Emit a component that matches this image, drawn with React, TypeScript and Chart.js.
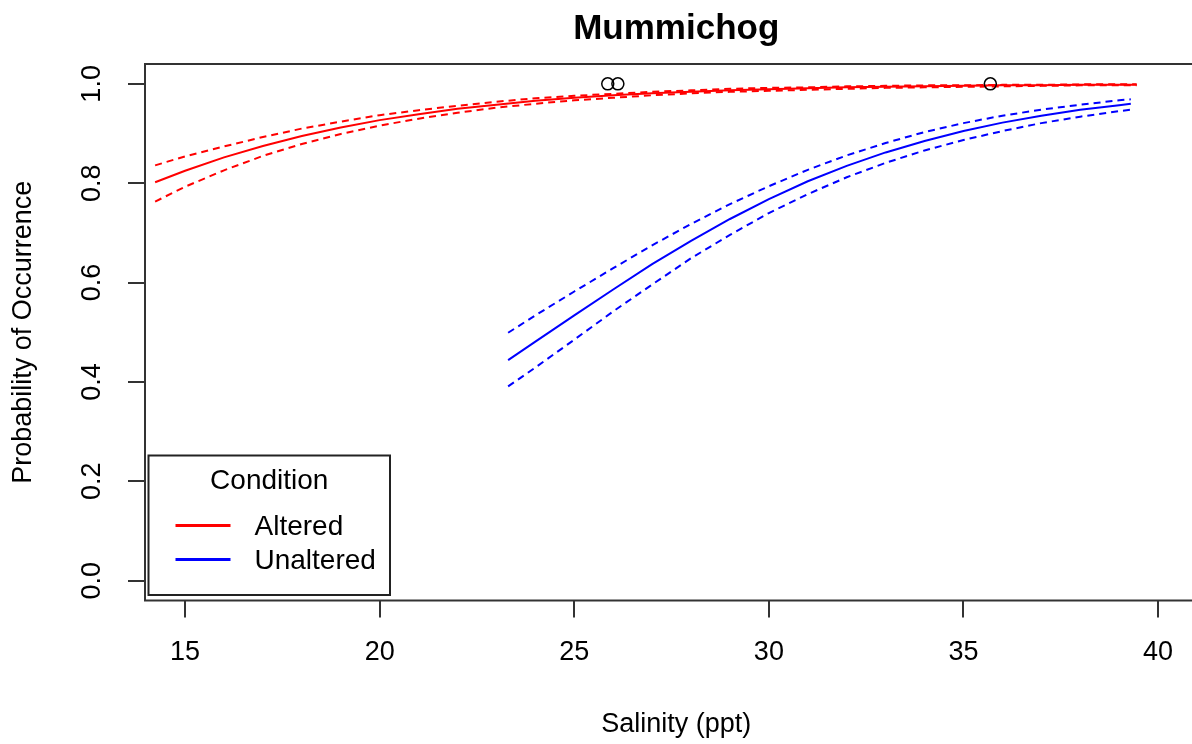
import React, { useEffect, useRef } from "react";
import { Chart, registerables } from "chart.js";

Chart.register(...registerables);

const chartTitle = "Mummichog";
const xLabel = "Salinity (ppt)";
const yLabel = "Probability of Occurrence";
const xTicks = [15, 20, 25, 30, 35, 40];
const yTicks = [0, 0.2, 0.4, 0.6, 0.8, 1.0];
const legendTitle = "Condition";
const seriesNames = ["Altered", "Unaltered"];
const seriesColors = ["#FF0000", "#0000FF"];

const alteredX = [14.23, 15, 16, 17, 18, 19, 20, 21, 22, 23, 24, 25, 26, 27, 28, 29, 30, 31, 32, 33, 34, 35, 36, 37, 38, 39, 39.45];
const alteredFit = [0.802, 0.825, 0.852, 0.875, 0.895, 0.912, 0.927, 0.939, 0.950, 0.958, 0.966, 0.972, 0.977, 0.981, 0.984, 0.987, 0.989, 0.991, 0.993, 0.994, 0.995, 0.996, 0.997, 0.997, 0.998, 0.998, 0.998];
const alteredUpper = [0.836, 0.854, 0.874, 0.893, 0.910, 0.924, 0.937, 0.947, 0.956, 0.964, 0.971, 0.976, 0.980, 0.984, 0.987, 0.990, 0.992, 0.993, 0.995, 0.996, 0.997, 0.997, 0.998, 0.998, 0.999, 0.999, 0.999];
const alteredLower = [0.763, 0.793, 0.826, 0.855, 0.879, 0.899, 0.916, 0.930, 0.942, 0.952, 0.960, 0.967, 0.972, 0.977, 0.981, 0.984, 0.986, 0.988, 0.990, 0.992, 0.993, 0.994, 0.995, 0.996, 0.997, 0.997, 0.997];

const unalteredX = [23.3, 24, 25, 26, 27, 28, 29, 30, 31, 32, 33, 34, 35, 36, 37, 38, 39, 39.3];
const unalteredFit = [0.444, 0.481, 0.534, 0.586, 0.637, 0.684, 0.728, 0.768, 0.804, 0.835, 0.862, 0.885, 0.905, 0.922, 0.936, 0.948, 0.957, 0.960];
const unalteredUpper = [0.499, 0.534, 0.582, 0.629, 0.675, 0.718, 0.758, 0.794, 0.827, 0.856, 0.881, 0.903, 0.921, 0.936, 0.948, 0.958, 0.967, 0.969];
const unalteredLower = [0.391, 0.429, 0.485, 0.542, 0.596, 0.649, 0.696, 0.740, 0.778, 0.812, 0.841, 0.866, 0.887, 0.905, 0.921, 0.934, 0.945, 0.948];

const obsX = [25.86, 26.12, 35.69];
const obsY = [1.0, 1.0, 1.0];

const FONT = "'Liberation Sans', Arial, sans-serif";

const toPts = (xs: number[], ys: number[]) => xs.map((x, i) => ({ x, y: ys[i] }));

const boxPlugin = {
  id: "rbox",
  afterDraw(chart: any) {
    const { ctx, chartArea: ca } = chart;
    ctx.save();
    ctx.strokeStyle = "#333";
    ctx.lineWidth = 2;
    ctx.strokeRect(ca.left, ca.top, ca.right - ca.left, ca.bottom - ca.top);
    ctx.restore();
  },
};

const legendPlugin = {
  id: "rlegend",
  afterDraw(chart: any) {
    const { ctx, chartArea: ca } = chart;
    const left = ca.left + 3.5;
    const bottom = ca.bottom - 5.5;
    const w = 241.5;
    const h = 139.5;
    const top = bottom - h;
    ctx.save();
    ctx.strokeStyle = "#222";
    ctx.lineWidth = 2;
    ctx.strokeRect(left, top, w, h);
    ctx.fillStyle = "#000";
    ctx.font = `28px ${FONT}`;
    ctx.textBaseline = "middle";
    ctx.textAlign = "center";
    ctx.fillText(legendTitle, left + w / 2, top + 26);
    ctx.textAlign = "left";
    const rows = [top + 70, top + 104];
    seriesNames.forEach((name, i) => {
      ctx.strokeStyle = seriesColors[i];
      ctx.lineWidth = 3;
      ctx.beginPath();
      ctx.moveTo(left + 27, rows[i]);
      ctx.lineTo(left + 82, rows[i]);
      ctx.stroke();
      ctx.fillStyle = "#000";
      ctx.fillText(name, left + 106, rows[i] + 2);
    });
    ctx.restore();
  },
};

export default function App() {
  const ref = useRef<HTMLCanvasElement | null>(null);
  useEffect(() => {
    if (!ref.current) return;
    Chart.defaults.font.family = FONT;
    const solid = (label: string, data: any, color: string) => ({
      label, data, showLine: true, borderColor: color, backgroundColor: color,
      borderWidth: 2, pointRadius: 0, fill: false, tension: 0,
    });
    const dashed = (label: string, data: any, color: string) => ({
      ...solid(label, data, color), borderDash: [7, 5],
    });
    const chart = new Chart(ref.current, {
      type: "scatter",
      data: {
        datasets: [
          {
            label: "Observed", data: toPts(obsX, obsY), showLine: false,
            pointRadius: 6, pointStyle: "circle", borderColor: "#000",
            backgroundColor: "rgba(0,0,0,0)", borderWidth: 1.5,
          } as any,
          solid(seriesNames[1], toPts(unalteredX, unalteredFit), seriesColors[1]),
          dashed(seriesNames[1] + " upper", toPts(unalteredX, unalteredUpper), seriesColors[1]),
          dashed(seriesNames[1] + " lower", toPts(unalteredX, unalteredLower), seriesColors[1]),
          solid(seriesNames[0], toPts(alteredX, alteredFit), seriesColors[0]),
          dashed(seriesNames[0] + " upper", toPts(alteredX, alteredUpper), seriesColors[0]),
          dashed(seriesNames[0] + " lower", toPts(alteredX, alteredLower), seriesColors[0]),
        ],
      },
      options: {
        animation: false,
        responsive: false,
        maintainAspectRatio: false,
        layout: { padding: { left: 0, right: 4, top: 0, bottom: 0 } },
        plugins: {
          legend: { display: false },
          tooltip: { enabled: false },
          title: {
            display: true, text: chartTitle, color: "#000", fullSize: false,
            font: { size: 35, weight: "bold" }, padding: { top: 8.5, bottom: 13.5 },
          },
        },
        scales: {
          x: {
            type: "linear", min: 13.97, max: 41.27,
            afterBuildTicks: (s: any) => { s.ticks = xTicks.map((v) => ({ value: v })); },
            afterFit: (s: any) => { s.height = 143.5; },
            grid: { drawOnChartArea: false, drawTicks: true, tickLength: 17, color: "#333", lineWidth: 2 },
            border: { display: false },
            ticks: { color: "#000", font: { size: 27 }, padding: 19, maxRotation: 0, autoSkip: false },
            title: { display: true, text: xLabel, color: "#000", font: { size: 27 }, padding: { top: 0, bottom: 3 } },
          },
          y: {
            type: "linear", min: -0.04, max: 1.04,
            afterBuildTicks: (s: any) => { s.ticks = yTicks.map((v) => ({ value: v })); },
            afterFit: (s: any) => { s.width = 145; },
            grid: { drawOnChartArea: false, drawTicks: true, tickLength: 17, color: "#333", lineWidth: 2 },
            border: { display: false },
            ticks: {
              color: "#000", font: { size: 27 }, padding: 17, minRotation: 90, maxRotation: 90,
              crossAlign: "center", autoSkip: false,
              callback: (v: any) => Number(v).toFixed(1),
            },
            title: { display: true, text: yLabel, color: "#000", font: { size: 27 }, padding: { top: 7, bottom: 0 } },
          },
        },
      } as any,
      plugins: [boxPlugin, legendPlugin],
    });
    return () => chart.destroy();
  }, []);
  return (
    <div style={{ position: "fixed", left: 0, top: 0, width: 1215, height: 744, background: "#fff" }}>
      <canvas ref={ref} width={1215} height={744} style={{ display: "block" }} />
    </div>
  );
}
